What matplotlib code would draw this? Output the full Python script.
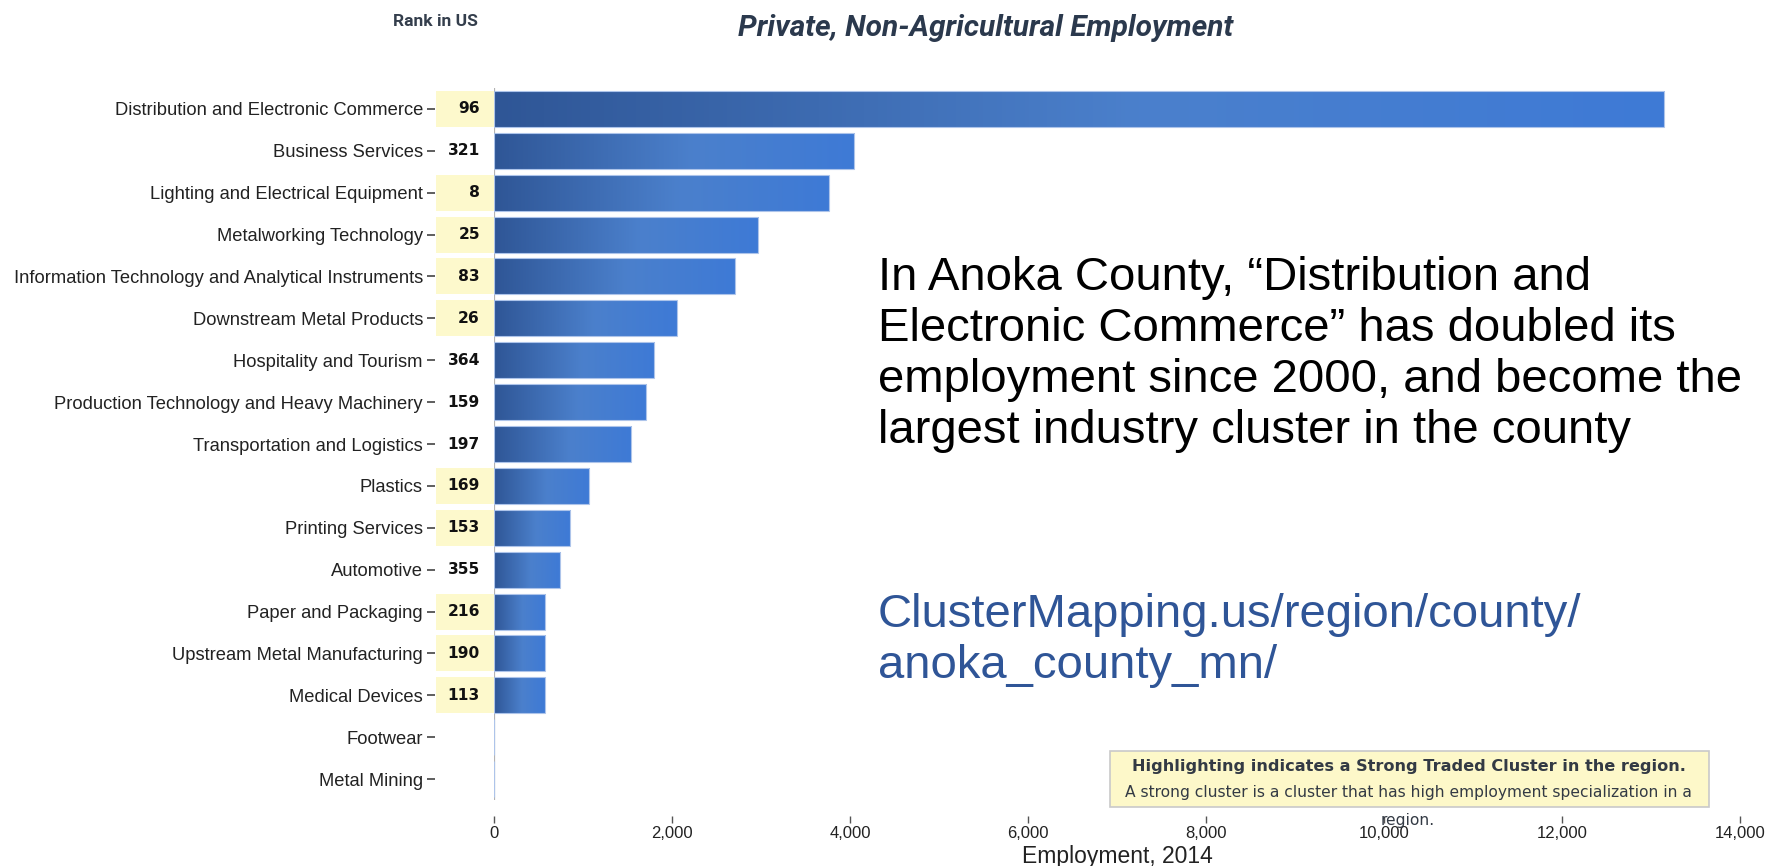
#!/usr/bin/env python3
"""
Anoka County, MN: traded cluster employment 2014 (private, non-agricultural),
with US rank per cluster and strong-cluster highlighting.
"""
import matplotlib
matplotlib.use("Agg")
import matplotlib.pyplot as plt
import numpy as np
from matplotlib.colors import LinearSegmentedColormap
from matplotlib.patches import Rectangle

# ── data ──────────────────────────────────────────────────────────────────────
CLUSTERS = [
    "Distribution and Electronic Commerce",
    "Business Services",
    "Lighting and Electrical Equipment",
    "Metalworking Technology",
    "Information Technology and Analytical Instruments",
    "Downstream Metal Products",
    "Hospitality and Tourism",
    "Production Technology and Heavy Machinery",
    "Transportation and Logistics",
    "Plastics",
    "Printing Services",
    "Automotive",
    "Paper and Packaging",
    "Upstream Metal Manufacturing",
    "Medical Devices",
    "Footwear",
    "Metal Mining",
]
EMPLOYMENT = [13150, 4045, 3760, 2970, 2705, 2055, 1800, 1710, 1540,
              1070, 855, 745, 578, 575, 572, 0, 0]
US_RANK = [96, 321, 8, 25, 83, 26, 364, 159, 197,
           169, 153, 355, 216, 190, 113, None, None]
STRONG = [True, False, True, True, True, True, False, False, False,
          True, True, False, True, True, True, False, False]

X_TICKS = [0, 2000, 4000, 6000, 8000, 10000, 12000, 14000]

NOTE_LINES = [
    "In Anoka County, \u201cDistribution and",
    "Electronic Commerce\u201d has doubled its",
    "employment since 2000, and become the",
    "largest industry cluster in the county",
]
URL_LINES = ["ClusterMapping.us/region/county/", "anoka_county_mn/"]

# ── style ─────────────────────────────────────────────────────────────────────
W, H, DPI = 1781, 866, 100
PT = 72 / DPI                      # points per pixel
SANS = ["Liberation Sans", "DejaVu Sans"]
NARROW = ["Liberation Sans Narrow", "Roboto", "DejaVu Sans"]
GEO = ["DejaVu Sans"]
HIGHLIGHT = "#fdf9cc"
BAR_CMAP = LinearSegmentedColormap.from_list(
    "bar", [(0.0, "#2f5696"), (0.55, "#4b80cc"), (1.0, "#3e7ad6")])
BAR_H = 0.86


def px(x, y):
    """pixel position -> figure fraction"""
    return x / W, 1 - y / H


def main() -> None:
    fig = plt.figure(figsize=(W / DPI, H / DPI), dpi=DPI)
    ax = fig.add_axes([494 / W, 1 - 800 / H, 1246 / W, 712 / H])

    ypos = np.arange(len(CLUSTERS))
    grad = np.linspace(0, 1, 256).reshape(1, -1)

    bars = ax.barh(ypos, EMPLOYMENT, height=BAR_H, color="none",
                   edgecolor="#adc4ea", linewidth=0.8, zorder=3)
    for yi, val, bar in zip(ypos, EMPLOYMENT, bars):
        if val <= 0:
            continue
        im = ax.imshow(grad, cmap=BAR_CMAP, aspect="auto", zorder=2,
                       extent=(0, val, yi + BAR_H / 2, yi - BAR_H / 2))
        im.set_clip_path(bar)

    ax.set_xlim(0, 14000)
    ax.set_ylim(len(CLUSTERS) - 0.5, -0.5)
    ax.axvline(0, color="#b3b3b3", lw=1.6, zorder=1)

    # highlight strips + US rank to the left of the bars
    tr = ax.get_yaxis_transform()
    for yi, rank, strong in zip(ypos, US_RANK, STRONG):
        if strong:
            ax.add_patch(Rectangle((-58 / 1246, yi - BAR_H / 2), 58 / 1246, BAR_H,
                                   transform=tr, facecolor=HIGHLIGHT,
                                   edgecolor="none", clip_on=False, zorder=1))
        if rank is not None:
            ax.text(-14 / 1246, yi, str(rank), transform=tr, ha="right",
                    va="center", fontsize=11.2, fontweight="bold",
                    family=GEO, color="#111111", clip_on=False)

    # axes: tick marks sit away from the data area
    for s in ("top", "right"):
        ax.spines[s].set_visible(False)
    ax.spines["left"].set_position(("outward", 59 * PT))
    ax.spines["left"].set_visible(False)
    ax.spines["bottom"].set_position(("outward", 16 * PT))
    ax.spines["bottom"].set_visible(False)

    ax.set_yticks(ypos)
    ax.set_yticklabels(CLUSTERS, family=SANS, fontsize=13.2, color="#222222")
    ax.tick_params(axis="y", length=8 * PT, width=1.1, color="#333333",
                   pad=4 * PT)

    ax.set_xticks(X_TICKS)
    ax.set_xticklabels([f"{t:,}" for t in X_TICKS], family=SANS,
                       fontsize=12, color="#222222")
    ax.tick_params(axis="x", length=7 * PT, width=1.0, color="#555555",
                   pad=3 * PT)
    ax.set_xlabel("Employment, 2014", family=SANS, fontsize=16.5,
                  color="#222222")
    ax.xaxis.set_label_coords(0.5, (800 - 856) / 712)
    ax.xaxis.label.set_va("center")

    # headers
    fig.text(*px(435, 22), "Rank in US", ha="center", va="center",
             family=NARROW, fontsize=12.5, fontweight="bold", color="#343e4c")
    fig.text(*px(986, 28), "Private, Non-Agricultural Employment",
             ha="center", va="center", family=NARROW, fontsize=21.5,
             fontweight="bold", style="italic", color="#2b394d")

    # commentary
    for i, line in enumerate(NOTE_LINES):
        fig.text(*px(878, 278 + i * 51), line, ha="left", va="center",
                 family=SANS, fontsize=34, color="#000000")
    for i, line in enumerate(URL_LINES):
        fig.text(*px(878, 615 + i * 51), line, ha="left", va="center",
                 family=SANS, fontsize=34, color="#2f5597")

    # strong-cluster note box
    bx0, by0 = px(1110, 807)
    bx1, by1 = px(1709, 751)
    fig.patches.append(Rectangle((bx0, by0), bx1 - bx0, by1 - by0,
                                 transform=fig.transFigure,
                                 facecolor="#fdf8c9", edgecolor="#c9c9c9",
                                 linewidth=1.2, zorder=0))
    fig.text(*px(1409, 767), "Highlighting indicates a Strong Traded Cluster in the region.",
             ha="center", va="center", family=GEO, fontsize=11.6,
             fontweight="bold", color="#333a44")
    fig.text(*px(1408, 793),
             "A strong cluster is a cluster that has high employment specialization in a",
             ha="center", va="center", family=GEO, fontsize=11.2, color="#333a44")
    fig.text(*px(1408, 820), "region.", ha="center", va="center",
             family=GEO, fontsize=11.2, color="#333a44")

    fig.savefig("out.png", dpi=DPI)
    plt.close(fig)


if __name__ == "__main__":
    main()
